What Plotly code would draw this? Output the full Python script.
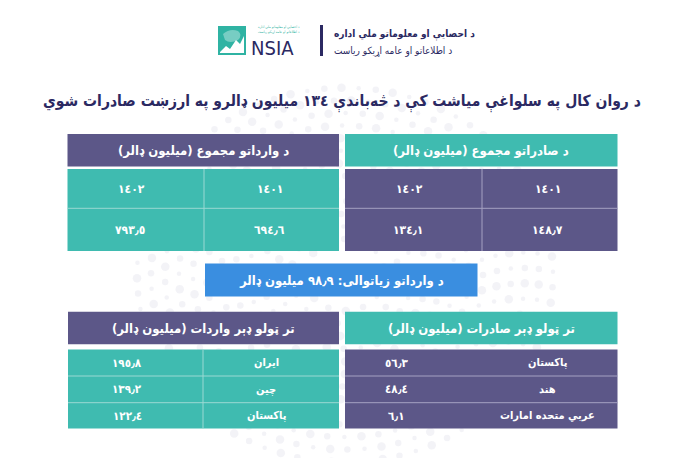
import plotly.graph_objects as go
import numpy as np

# ---------------- data ----------------
years = [1401, 1402]
exports_total = [148.7, 134.1]          # million USD
imports_total = [694.6, 793.5]          # million USD
imports_increase = 98.9                 # million USD
export_countries = ["پاکستان", "هند", "عربي متحده امارات"]
export_values = [56.3, 48.4, 6.1]
import_countries = ["ایران", "چین", "پاکستان"]
import_values = [195.8, 139.2, 122.4]

title_month_exports = 134

# ---------------- helpers ----------------
AR = str.maketrans("0123456789.", "٠١٢٣٤٥٦٧٨٩٫")


def ar(v):
    return str(v).translate(AR)


W, H = 696, 458
PURPLE = "#5c5788"
TEAL = "#3fbbb0"
BLUE = "#3a8ee0"
NAVY = "#2b2962"
FONT = "DejaVu Sans Condensed, DejaVu Sans"

shapes = []
annos = []


def rect(x0, y0, x1, y1, color):
    shapes.append(dict(type="rect", x0=x0, x1=x1, y0=y0, y1=y1, xref="x", yref="y",
                       fillcolor=color, line=dict(width=0), layer="above"))


def line(x0, y0, x1, y1, color, w=1):
    shapes.append(dict(type="line", x0=x0, x1=x1, y0=y0, y1=y1, xref="x", yref="y",
                       line=dict(color=color, width=w), layer="above"))


def text(x, y, s, size, color="white", bold=True, xanchor="center"):
    annos.append(dict(x=x, y=y, xref="x", yref="y", text=(f"<b>{s}</b>" if bold else s),
                      showarrow=False, xanchor=xanchor, yanchor="middle",
                      font=dict(family=FONT, size=size, color=color)))


fig = go.Figure()

# decorative faint dot rings in background
dx, dy, ds = [], [], []
cx, cy = 345, 275
for r in range(40, 220, 14):
    n = int(2 * np.pi * r / 17)
    for k in range(n):
        a = 2 * np.pi * k / n + r * 0.05
        dx.append(cx + r * np.cos(a))
        dy.append(cy + 0.9 * r * np.sin(a))
        ds.append(4.5 + 4 * ((k * 7 + r) % 3) / 2)
fig.add_trace(go.Scatter(x=dx, y=dy, mode="markers", hoverinfo="skip",
                         marker=dict(size=ds, color="#eeeef3", line=dict(width=0)),
                         showlegend=False))

# ---------------- header / logo ----------------
rect(218, 26, 246, 55, "#2fb3a3")
shapes.append(dict(type="path", path="M 220 52 L 226 46 L 230 49 L 236 40 L 240 44 L 244 36 L 244 53 L 220 53 Z",
                   fillcolor="white", line=dict(width=0), xref="x", yref="y", layer="above"))
shapes.append(dict(type="path", path="M 223 34 Q 230 28 238 31 Q 243 35 238 40 Q 230 44 225 40 Z",
                   fillcolor="rgba(255,255,255,0.35)", line=dict(width=0), xref="x", yref="y", layer="above"))
text(249, 48, "NSIA", 20, color=NAVY, bold=False, xanchor="left")
text(279, 27.5, "د احصایې او معلوماتو ملي اداره", 3.5, color="#2fb3a3", bold=False)
text(279, 32, "د اطلاعاتو او عامه اړیکو ریاست", 3.5, color="#2fb3a3", bold=False)
line(321.5, 25, 321.5, 56, NAVY, 3)
text(332, 34, "د احصایې او معلوماتو ملي اداره", 10, color=NAVY, bold=True, xanchor="left")
text(332, 51, "د اطلاعاتو او عامه اړیکو ریاست", 10, color=NAVY, bold=False, xanchor="left")

# ---------------- title ----------------
text(342, 102,
     f"د روان کال په سلواغې میاشت کې د څه‌باندې {ar(title_month_exports)} میلیون ډالرو په ارزښت صادرات شوي",
     15.5, color=NAVY)

# ---------------- top tables ----------------
def top_table(x0, x1, xm, head_col, body_col, title, values, line_col):
    rect(x0, 134, x1, 166.5, head_col)
    text((x0 + x1) / 2, 150, title, 13)
    rect(x0, 169, x1, 251, body_col)
    line(x0, 208.3, x1, 208.3, line_col, 1)
    line(xm, 169, xm, 251, line_col, 1)
    # RTL: first year on right column
    text((xm + x1) / 2 - 2, 188.5, ar(years[0]), 12)
    text((x0 + xm) / 2 - 4, 188.5, ar(years[1]), 12)
    text((xm + x1) / 2 - 2, 229.5, ar(values[0]), 12)
    text((x0 + xm) / 2 - 6, 229.5, ar(values[1]), 12)


top_table(67.5, 339, 204, PURPLE, TEAL, "د وارداتو مجموع (میلیون ډالر)", imports_total, "#9ad9d3")
top_table(345, 617.5, 482, TEAL, PURPLE, "د صادراتو مجموع (میلیون ډالر)", exports_total, "#a5a2c2")

# ---------------- banner ----------------
rect(205, 263.5, 477.5, 296.5, BLUE)
text(341, 280, f"د وارداتو زیاتوالی: {ar(imports_increase)} میلیون ډالر", 13)

# ---------------- bottom tables ----------------
rows_y = [349.5, 376, 402.7, 428.5]


def bottom_table(x0, x1, xm, head_col, body_col, title, countries, values, line_col,
                 cx_country, cx_value, divider):
    rect(x0, 311.7, x1, 344.3, head_col)
    text((x0 + x1) / 2, 328, title, 13)
    rect(x0, rows_y[0], x1, rows_y[-1], body_col)
    for yy in rows_y[1:-1]:
        line(x0, yy, x1, yy, line_col, 1)
    if divider:
        line(xm, rows_y[0], xm, rows_y[-1], line_col, 1)
    for i, (c, v) in enumerate(zip(countries, values)):
        ym = (rows_y[i] + rows_y[i + 1]) / 2
        text(cx_country, ym, c, 11)
        text(cx_value, ym, ar(v), 11.5)


bottom_table(68, 339, 203, PURPLE, TEAL, "تر ټولو ډېر واردات (میلیون ډالر)",
             import_countries, import_values, "#9ad9d3", 266, 127, True)
bottom_table(345, 617.5, 482, TEAL, PURPLE, "تر ټولو ډېر صادرات (میلیون ډالر)",
             export_countries, export_values, "#a5a2c2", 547, 396, False)

fig.update_layout(
    width=W, height=H,
    margin=dict(l=0, r=0, t=0, b=0),
    paper_bgcolor="white", plot_bgcolor="white",
    xaxis=dict(range=[0, W], visible=False, fixedrange=True),
    yaxis=dict(range=[H, 0], visible=False, fixedrange=True),
    shapes=shapes, annotations=annos, showlegend=False,
)

fig.write_html("out.html", config={"displayModeBar": False},
               post_script="document.body.style.margin='0px';")
